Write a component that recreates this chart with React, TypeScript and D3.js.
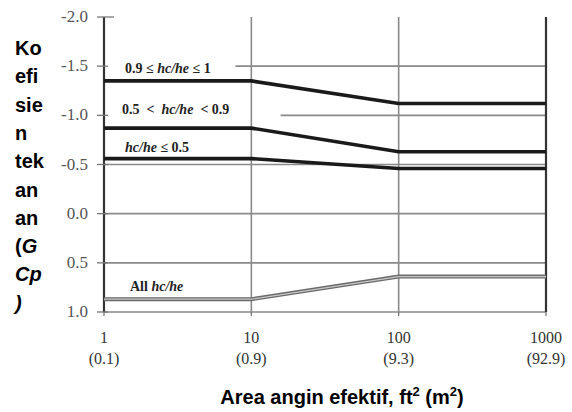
import React, { useEffect, useRef } from "react";
import * as d3 from "d3";

// x axis: effective wind area (ft2), with m2 in brackets
const areas = [1, 10, 100, 1000];
const areaM2 = ["(0.1)", "(0.9)", "(9.3)", "(92.9)"];
const yTicks = [-2.0, -1.5, -1.0, -0.5, 0.0, 0.5, 1.0];

// GCp values read at area = 1, 10, 100, 1000
const seriesHigh = [-1.35, -1.35, -1.12, -1.12]; // 0.9 <= hc/he <= 1
const seriesMid = [-0.87, -0.87, -0.63, -0.63]; // 0.5 < hc/he < 0.9
const seriesLow = [-0.56, -0.56, -0.46, -0.46]; // hc/he <= 0.5
const seriesAll = [0.87, 0.87, 0.64, 0.64]; // All hc/he

// horizontal grid lines and the area where each one starts (labels sit over the left part)
const gridValues = [-1.5, -1.0, -0.5, 0.0, 0.5, 1.0];
const gridStart = [7.8, 15.8, 1, 1, 1, 1];

const yTitle = ["Ko", "efi", "sie", "n", "tek", "an", "an", "(G", "Cp", ")"];

const App = () => {
  const svgRef = useRef<SVGSVGElement>(null);

  useEffect(() => {
    const W = 572, H = 412;
    const svg = d3.select(svgRef.current);
    svg.selectAll("*").remove();

    const x = d3.scaleLog().domain([1, 1000]).range([104, 546]);
    const y = d3.scaleLinear().domain([-2, 1]).range([17, 312]);

    const serif = "'Liberation Serif', 'Times New Roman', serif";
    const sans = "'Liberation Sans', Arial, sans-serif";

    // grid
    svg.append("g")
      .selectAll("line")
      .data(gridValues)
      .join("line")
      .attr("x1", (d, i) => x(gridStart[i]))
      .attr("x2", x(1000))
      .attr("y1", (d) => y(d))
      .attr("y2", (d) => y(d))
      .attr("stroke", "#8a8a8a")
      .attr("stroke-width", 1.6);

    svg.append("g")
      .selectAll("line")
      .data([10, 100])
      .join("line")
      .attr("x1", (d) => x(d))
      .attr("x2", (d) => x(d))
      .attr("y1", y(-2))
      .attr("y2", y(1))
      .attr("stroke", "#8a8a8a")
      .attr("stroke-width", 1.6);

    // left axis + right border
    svg.append("line")
      .attr("x1", x(1)).attr("x2", x(1))
      .attr("y1", y(-2)).attr("y2", y(1))
      .attr("stroke", "#333").attr("stroke-width", 2.2);
    svg.append("line")
      .attr("x1", x(1000)).attr("x2", x(1000))
      .attr("y1", y(-2)).attr("y2", y(1))
      .attr("stroke", "#333").attr("stroke-width", 2.2);

    // y ticks (they cross the axis a little)
    const yAxis = svg.append("g");
    yAxis.selectAll("line")
      .data(yTicks)
      .join("line")
      .attr("x1", x(1) - 7)
      .attr("x2", (d) => x(1) + (d === -2 ? 10 : 4))
      .attr("y1", (d) => y(d))
      .attr("y2", (d) => y(d))
      .attr("stroke", "#777")
      .attr("stroke-width", 1.3);
    yAxis.selectAll("text")
      .data(yTicks)
      .join("text")
      .attr("x", 88)
      .attr("y", (d) => y(d) + 5)
      .attr("text-anchor", "end")
      .attr("font-family", serif)
      .attr("font-size", 17)
      .attr("fill", "#555")
      .text((d) => d3.format(".1f")(d).replace("−", "-"));

    // x tick labels
    const xAxis = svg.append("g");
    xAxis.selectAll("line")
      .data(areas)
      .join("line")
      .attr("x1", (d) => x(d))
      .attr("x2", (d) => x(d))
      .attr("y1", y(1))
      .attr("y2", y(1) + 4)
      .attr("stroke", "#777")
      .attr("stroke-width", 1.3);
    xAxis.selectAll("text.ft")
      .data(areas)
      .join("text")
      .attr("class", "ft")
      .attr("x", (d) => x(d))
      .attr("y", 343)
      .attr("text-anchor", "middle")
      .attr("font-family", serif)
      .attr("font-size", 16)
      .attr("fill", "#333")
      .text((d) => String(d));
    xAxis.selectAll("text.m2")
      .data(areaM2)
      .join("text")
      .attr("class", "m2")
      .attr("x", (d, i) => x(areas[i]))
      .attr("y", 364)
      .attr("text-anchor", "middle")
      .attr("font-family", serif)
      .attr("font-size", 16)
      .attr("fill", "#333")
      .text((d) => d);

    // series
    const line = d3.line<number>()
      .x((d, i) => x(areas[i]))
      .y((d) => y(d));

    [seriesHigh, seriesMid, seriesLow].forEach((s) => {
      svg.append("path")
        .datum(s)
        .attr("d", line)
        .attr("fill", "none")
        .attr("stroke", "#1a1a1a")
        .attr("stroke-width", 3.6);
    });
    svg.append("path")
      .datum(seriesAll)
      .attr("d", line)
      .attr("fill", "none")
      .attr("stroke", "#6a6a6a")
      .attr("stroke-width", 4);
    svg.append("path")
      .datum(seriesAll)
      .attr("d", line)
      .attr("fill", "none")
      .attr("stroke", "#c8c8c8")
      .attr("stroke-width", 1.2);

    // series labels
    const labels = [
      { x: 125, y: 73, parts: [["0.9 ≤ ", false], ["hc/he", true], [" ≤ 1", false]] },
      { x: 122, y: 114, parts: [["0.5  <  ", false], ["hc/he", true], ["  < 0.9", false]] },
      { x: 125, y: 152, parts: [["hc/he", true], [" ≤ 0.5", false]] },
      { x: 130, y: 291, parts: [["All ", false], ["hc/he", true]] },
    ];
    labels.forEach((l) => {
      const t = svg.append("text")
        .attr("x", l.x)
        .attr("y", l.y)
        .attr("font-family", serif)
        .attr("font-size", 14)
        .attr("font-weight", "bold")
        .attr("fill", "#222")
        .attr("xml:space", "preserve")
        .style("white-space", "pre");
      l.parts.forEach(([s, it]) => {
        t.append("tspan")
          .attr("font-style", it ? "italic" : "normal")
          .text(s as string);
      });
    });

    // y title, one short line per row
    const yt = svg.append("text")
      .attr("font-family", sans)
      .attr("font-size", 20)
      .attr("font-weight", "bold")
      .attr("fill", "#000");
    yTitle.forEach((s, i) => {
      const row = yt.append("tspan").attr("x", 15).attr("y", 55 + i * 28.3);
      if (s === "(G") {
        row.append("tspan").text("(");
        row.append("tspan").attr("font-style", "italic").text("G");
      } else if (s === "Cp" || s === ")") {
        row.attr("font-style", "italic").text(s);
      } else {
        row.text(s);
      }
    });

    // x title
    const xt = svg.append("text")
      .attr("x", 342)
      .attr("y", 404)
      .attr("text-anchor", "middle")
      .attr("font-family", sans)
      .attr("font-size", 20)
      .attr("font-weight", "bold")
      .attr("fill", "#000");
    xt.append("tspan").text("Area angin efektif, ft");
    xt.append("tspan").attr("font-size", 13).attr("dy", -8).text("2");
    xt.append("tspan").attr("dy", 8).text(" (m");
    xt.append("tspan").attr("font-size", 13).attr("dy", -8).text("2");
    xt.append("tspan").attr("dy", 8).text(")");

    svg.attr("width", W).attr("height", H);
  }, []);

  return (
    <svg
      ref={svgRef}
      width={572}
      height={412}
      style={{ position: "absolute", left: 0, top: 0, background: "#fff" }}
    />
  );
};

export default App;
